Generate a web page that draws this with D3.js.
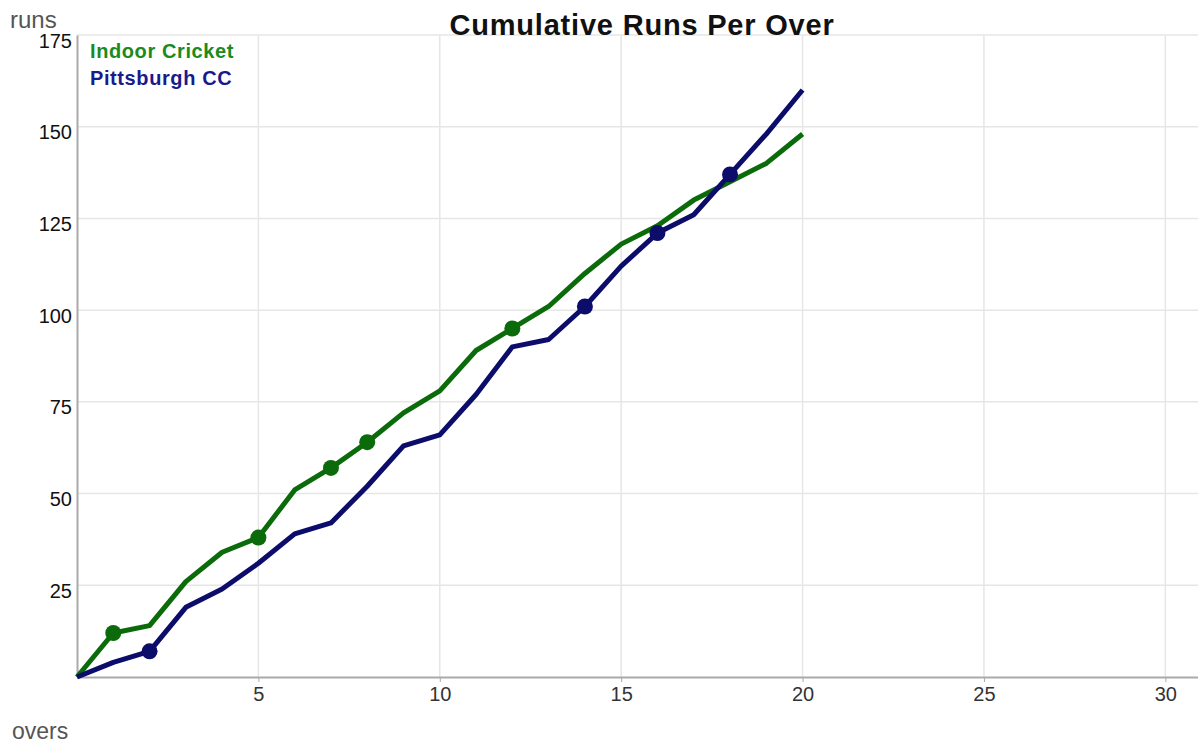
<!DOCTYPE html>
<html>
<head>
<meta charset="utf-8">
<script src="https://cdn.jsdelivr.net/npm/d3@7"></script>
<style>
  body { margin: 0; background: #fff; }
  text { font-family: "Liberation Sans", Arial, sans-serif; }
</style>
</head>
<body>
<div id="chart"></div>
<script>
// cumulative runs after each over (over 0 .. 20)
const overs = d3.range(0, 21);
const indoorRuns = [0, 12, 14, 26, 34, 38, 51, 57, 64, 72, 78, 89, 95, 101, 110, 118, 123, 130, 135, 140, 148];
const pittsburghRuns = [0, 4, 7, 19, 24, 31, 39, 42, 52, 63, 66, 77, 90, 92, 101, 112, 121, 126, 137, 148, 160];
// overs where a wicket fell (marked with a dot)
const indoorWickets = [1, 5, 7, 8, 12];
const pittsburghWickets = [2, 14, 16, 18];

const xTicks = [5, 10, 15, 20, 25, 30];
const yTicks = [25, 50, 75, 100, 125, 150, 175];

const teams = [
  { name: "Indoor Cricket", runs: indoorRuns, wickets: indoorWickets, color: "#0b6b0b", label: "#1c8a1c" },
  { name: "Pittsburgh CC", runs: pittsburghRuns, wickets: pittsburghWickets, color: "#0c0c6b", label: "#1a1a8c" }
];

const width = 1198, height = 746;
const margin = { top: 35, right: 0, bottom: 69, left: 77 };

const svg = d3.select("#chart").append("svg")
  .attr("width", width)
  .attr("height", height);

const x = d3.scaleLinear().domain([0, 30.9]).range([margin.left, width - margin.right]);
const y = d3.scaleLinear().domain([0, 175]).range([height - margin.bottom, margin.top]);

// grid
svg.append("g")
  .selectAll("line")
  .data(yTicks)
  .enter()
  .append("line")
  .attr("x1", x(0))
  .attr("x2", width)
  .attr("y1", (d) => y(d))
  .attr("y2", (d) => y(d))
  .style("stroke", "#e6e6e6")
  .style("stroke-width", 1.5);

svg.append("g")
  .selectAll("line")
  .data(xTicks)
  .enter()
  .append("line")
  .attr("x1", (d) => x(d))
  .attr("x2", (d) => x(d))
  .attr("y1", y(175))
  .attr("y2", y(0))
  .style("stroke", "#e6e6e6")
  .style("stroke-width", 1.5);

// axes
const xAxis = svg.append("g")
  .attr("transform", "translate(0," + y(0) + ")")
  .call(d3.axisBottom(x).tickValues(xTicks).tickSize(5).tickPadding(5).tickSizeOuter(0));
xAxis.select(".domain").style("stroke", "#aaa").style("stroke-width", 2);
xAxis.selectAll(".tick line").style("stroke", "#aaa");
xAxis.selectAll("text")
  .style("font-size", "20px")
  .style("fill", "#333");

const yAxis = svg.append("g")
  .attr("transform", "translate(" + x(0) + ",0)")
  .call(d3.axisLeft(y).tickValues(yTicks).tickSize(0).tickPadding(5).tickSizeOuter(0));
yAxis.select(".domain").style("stroke", "#aaa").style("stroke-width", 2);
yAxis.selectAll("text")
  .attr("dy", "0.6em")
  .style("font-size", "20px")
  .style("fill", "#111");

// lines
const line = d3.line()
  .x((d, i) => x(overs[i]))
  .y((d) => y(d));

teams.forEach(function (t) {
  svg.append("path")
    .datum(t.runs)
    .attr("d", line)
    .style("fill", "none")
    .style("stroke", t.color)
    .style("stroke-width", 5)
    .style("stroke-linejoin", "round");

  svg.append("g")
    .selectAll("circle")
    .data(t.wickets)
    .enter()
    .append("circle")
    .attr("cx", (d) => x(d))
    .attr("cy", (d) => y(t.runs[d]))
    .attr("r", 8)
    .style("fill", t.color);
});

// legend
svg.selectAll(".legend")
  .data(teams)
  .enter()
  .append("text")
  .attr("class", "legend")
  .attr("x", 90)
  .attr("y", (d, i) => 58 + i * 27)
  .style("font-size", "20px")
  .style("font-weight", "bold")
  .style("letter-spacing", "0.6px")
  .style("fill", (d) => d.label)
  .text((d) => d.name);

// title and axis labels
svg.append("text")
  .attr("x", 642)
  .attr("y", 35)
  .attr("text-anchor", "middle")
  .style("font-size", "29px")
  .style("font-weight", "bold")
  .style("letter-spacing", "0.8px")
  .style("fill", "#111")
  .text("Cumulative Runs Per Over");

svg.append("text")
  .attr("x", 10)
  .attr("y", 28)
  .style("font-size", "24px")
  .style("fill", "#555")
  .text("runs");

svg.append("text")
  .attr("x", 12)
  .attr("y", 739)
  .style("font-size", "23px")
  .style("fill", "#555")
  .text("overs");
</script>
</body>
</html>
